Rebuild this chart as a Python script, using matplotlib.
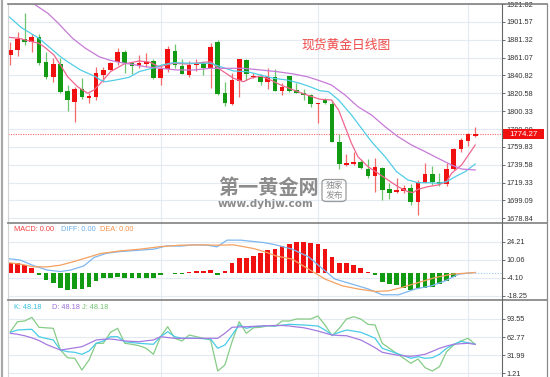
import matplotlib
matplotlib.use("Agg")
import matplotlib.pyplot as plt
from matplotlib.patches import Rectangle, FancyBboxPatch
from matplotlib.lines import Line2D
import numpy as np

# ---- candles (open, high, low, close) ----
opens = [1864.0, 1869.7, 1882.1, 1878.4, 1884.7, 1856.4, 1839.4, 1853.8, 1823.5, 1811.0,
         1825.1, 1815.2, 1816.7, 1841.3, 1847.0, 1855.7, 1867.1, 1854.6, 1851.5, 1853.8,
         1857.5, 1837.6, 1847.8, 1868.9, 1851.5, 1841.3, 1852.7, 1855.3, 1848.9, 1879.1,
         1821.2, 1808.4, 1834.5, 1858.3, 1838.7, 1838.7, 1833.7, 1839.4, 1823.5, 1840.2,
         1824.3, 1821.2, 1818.6, 1808.1, 1812.6, 1808.4, 1765.7, 1739.3, 1740.4, 1742.3,
         1734.7, 1726.8, 1736.2, 1711.7, 1708.3, 1709.8, 1712.9, 1697.7, 1719.2, 1729.1,
         1720.3, 1717.7, 1734.7, 1757.1, 1766.5, 1772.5]
highs = [1879.1, 1890.4, 1911.3, 1887.5, 1887.5, 1867.7, 1860.3, 1860.3, 1830.0, 1828.0,
         1837.6, 1820.6, 1850.7, 1850.7, 1856.4, 1871.6, 1869.7, 1856.4, 1864.0, 1865.9,
         1859.1, 1851.9, 1874.2, 1876.5, 1859.1, 1857.2, 1859.1, 1857.5, 1877.9, 1881.0,
         1833.7, 1843.2, 1859.6, 1859.1, 1843.9, 1842.5, 1848.9, 1847.8, 1831.9, 1840.7,
         1831.9, 1825.1, 1819.4, 1809.9, 1815.6, 1812.6, 1774.4, 1751.7, 1754.4, 1745.7,
         1745.7, 1746.9, 1736.5, 1719.2, 1724.9, 1716.6, 1717.4, 1722.3, 1741.2, 1738.5,
         1729.9, 1741.9, 1758.2, 1769.5, 1775.9, 1782.7]
lows = [1852.7, 1862.9, 1875.3, 1867.7, 1852.7, 1836.8, 1833.7, 1821.2, 1800.8, 1788.4,
        1813.8, 1809.2, 1813.0, 1833.7, 1846.5, 1852.7, 1843.9, 1842.5, 1848.9, 1850.7,
        1836.4, 1830.0, 1845.1, 1848.9, 1842.0, 1838.7, 1846.2, 1841.3, 1826.2, 1818.6,
        1806.2, 1807.5, 1816.7, 1835.6, 1837.6, 1830.0, 1825.1, 1823.0, 1818.6, 1822.4,
        1820.6, 1813.0, 1804.7, 1786.6, 1808.4, 1765.0, 1734.4, 1738.1, 1739.3, 1734.4,
        1724.2, 1709.0, 1699.6, 1700.4, 1707.2, 1707.9, 1693.9, 1682.6, 1718.5, 1716.6,
        1715.5, 1715.5, 1733.6, 1754.4, 1760.8, 1770.7]
closes = [1869.7, 1882.1, 1878.7, 1884.7, 1855.3, 1838.7, 1853.8, 1822.4, 1813.0, 1825.1,
          1816.0, 1817.8, 1843.2, 1847.0, 1855.3, 1867.7, 1854.6, 1851.9, 1855.3, 1856.1,
          1838.3, 1848.1, 1870.5, 1852.7, 1842.5, 1852.7, 1855.3, 1848.9, 1873.4, 1819.8,
          1809.2, 1835.6, 1859.1, 1842.5, 1840.2, 1833.7, 1839.4, 1823.5, 1828.0, 1823.5,
          1821.2, 1818.6, 1808.4, 1809.2, 1809.9, 1765.7, 1740.4, 1741.9, 1743.0, 1735.5,
          1726.8, 1736.7, 1710.9, 1707.2, 1710.9, 1712.9, 1697.7, 1720.3, 1728.7, 1720.3,
          1717.7, 1734.7, 1757.1, 1767.6, 1774.1, 1774.27]
last_price = 1774.27

# ---- moving averages (candle index, value) ----
ma5_x = [-0.3, 1.2, 4.0, 4.7, 6.1, 7.0, 8.0, 9.4, 10.8, 11.7, 12.6, 14.0, 15.9, 18.0, 19.4, 20.8,
         22.8, 24.7, 28.0, 29.1, 31.2, 32.6, 33.6, 35.0, 36.4, 37.8, 39.6, 41.5, 43.3, 44.9,
         45.9, 46.8, 47.7, 48.6, 50.0, 51.4, 52.8, 54.2, 55.6, 56.3, 57.0, 58.4, 59.8, 61.0,
         61.7, 63.1, 65.0]
ma5_y = [1884.1, 1882.9, 1877.2, 1873.4, 1864.0, 1852.7, 1839.4, 1828.0, 1820.6, 1824.3, 1831.9,
         1845.1, 1853.8, 1857.2, 1856.1, 1850.7, 1854.6, 1853.8, 1856.4, 1848.9, 1837.6, 1833.7,
         1837.6, 1840.2, 1835.6, 1830.0, 1824.3, 1818.6, 1813.8, 1813.0, 1801.6, 1782.7, 1763.9,
         1748.7, 1737.4, 1729.9, 1722.3, 1714.7, 1709.0, 1707.9, 1711.7, 1714.7, 1716.6, 1720.3,
         1729.9, 1739.3, 1761.9]
ma10_x = [-0.3, 1.5, 4.0, 5.5, 7.0, 8.0, 9.8, 11.9, 12.6, 13.3, 14.7, 16.6, 18.0, 19.8, 21.2, 22.8,
          25.6, 28.0, 29.4, 31.2, 33.1, 35.0, 36.8, 38.7, 40.5, 41.9, 43.3, 44.5, 45.9, 47.7,
          49.1, 50.5, 52.4, 54.0, 55.6, 57.0, 58.4, 59.8, 61.0, 62.2, 63.6, 65.0]
ma10_y = [1908.2, 1895.3, 1882.9, 1872.5, 1862.1, 1856.4, 1847.0, 1839.4, 1835.6, 1833.7, 1835.6,
          1838.7, 1845.1, 1848.9, 1852.7, 1855.3, 1854.6, 1854.6, 1850.7, 1845.9, 1845.1, 1841.3,
          1837.6, 1835.6, 1831.9, 1828.0, 1823.5, 1822.4, 1813.0, 1796.0, 1780.9, 1765.7, 1748.7,
          1731.7, 1722.3, 1719.2, 1719.2, 1718.5, 1720.3, 1726.0, 1731.7, 1740.4]
ma20_x = [-0.4, 2.6, 4.0, 5.3, 6.7, 8.7, 10.5, 12.4, 13.8, 15.2, 17.0, 18.9, 21.0, 23.3, 25.6,
          28.0, 30.3, 32.6, 35.0, 37.3, 39.6, 41.5, 43.2, 44.9, 46.8, 48.6, 50.5, 52.4, 54.2,
          56.1, 58.0, 59.8, 61.7, 63.1, 65.0]
ma20_y = [1943.0, 1926.0, 1918.0, 1911.0, 1900.0, 1882.9, 1871.6, 1862.1, 1858.3, 1855.7,
          1853.4, 1850.7, 1848.9, 1847.0, 1847.0, 1848.9, 1848.9, 1848.9, 1847.0, 1845.1, 1842.5,
          1839.4, 1835.0, 1830.0, 1818.6, 1805.4, 1796.0, 1782.7, 1771.4, 1761.9, 1754.4, 1746.9,
          1739.3, 1734.7, 1733.6]

# ---- MACD ----
macd_hist = [7.4, 7.9, 6.1, 3.2, -2.1, -6.1, -7.9, -12.6, -14.0, -13.2,
             -13.2, -11.1, -7.1, -4.7, -4.0, -3.2, -4.7, -4.7, -4.7, -4.7,
             -4.7, -2.1, -0.5, -1.3, -1.3, 0.5, 1.1, 1.3, 2.1, -2.1,
             1.3, 7.4, 11.3, 11.3, 13.2, 15.3, 17.7, 18.4, 21.1, 22.9,
             24.2, 24.5, 23.7, 22.4, 18.4, 12.4, 7.9, 7.4, 6.1, 3.2,
             0.2, -1.8, -7.4, -9.2, -10.0, -11.9, -13.7, -11.9, -11.9, -11.3,
             -9.2, -6.6, -3.2, -1.3, -0.6, -0.3]
diff_x = [-0.4, 1.4, 3.3, 5.2, 7.0, 8.4, 10.3, 11.7, 13.5, 15.4, 18.2, 20.1, 21.9, 23.8, 25.6,
          27.5, 28.9, 30.3, 32.2, 35.4, 37.1, 39.4, 41.7, 44.0, 45.4, 47.8, 50.1, 52.0, 54.3,
          56.6, 58.9, 60.8, 62.7, 65.0]
diff_y = [11.1, 9.8, 5.3, 1.9, 0.8, 1.9, 5.3, 11.9, 15.3, 16.6, 17.7, 18.5, 21.1, 20.9, 21.9,
          21.6, 20.3, 25.6, 25.6, 23.7, 21.9, 18.5, 12.4, 1.3, -5.2, -9.2, -13.1, -17.6, -17.6,
          -13.1, -10.5, -6.6, -1.3, 0.0]
dea_x = [-0.4, 1.4, 3.3, 5.2, 7.0, 8.9, 10.8, 12.6, 15.4, 18.2, 21.0, 23.8, 26.6, 28.9, 31.2,
         34.0, 35.9, 37.1, 39.4, 41.7, 44.0, 46.4, 48.7, 51.0, 52.9, 54.7, 57.1, 59.4, 61.7, 65.0]
dea_y = [7.9, 6.6, 4.5, 4.5, 5.8, 8.7, 11.9, 15.0, 17.1, 18.5, 20.5, 21.6, 21.9, 21.6, 21.9,
         19.0, 15.8, 13.2, 10.6, 2.7, -5.2, -10.5, -13.1, -15.0, -14.5, -11.9, -7.9, -4.0, -1.3, 0.0]

# ---- KDJ ----
k_vals = [70.9, 74.8, 75.5, 76.0, 63.4, 60.5, 57.8, 40.8, 37.9, 36.9,
          33.5, 39.1, 52.2, 56.1, 63.4, 63.4, 54.9, 53.5, 52.2, 51.3,
          50.5, 63.4, 71.9, 63.4, 60.7, 61.0, 60.7, 60.0, 59.5, 43.7,
          49.3, 66.3, 83.3, 77.7, 80.4, 81.2, 82.1, 81.6, 83.0, 84.5,
          83.9, 83.3, 82.5, 81.6, 74.8, 66.3, 70.9, 74.8, 73.0, 70.9,
          66.0, 60.7, 43.7, 39.5, 35.2, 31.1, 26.7, 29.4, 26.7, 27.7,
          33.5, 43.7, 50.5, 55.4, 53.2, 50.5]
d_vals = [69.2, 67.5, 65.0, 61.5, 57.0, 50.5, 45.5, 40.8, 42.5, 44.5,
          46.4, 52.0, 57.8, 59.0, 59.5, 58.0, 56.1, 55.5, 54.9, 56.5,
          57.8, 63.4, 62.0, 60.7, 60.7, 60.7, 60.7, 60.7, 60.7, 60.7,
          69.2, 79.4, 80.0, 80.4, 81.0, 81.6, 82.1, 82.5, 82.5, 81.6,
          80.0, 78.7, 76.0, 73.1, 69.5, 66.3, 65.5, 65.1, 61.5, 57.8,
          51.5, 44.7, 36.9, 34.5, 32.3, 31.0, 30.1, 31.5, 33.5, 38.5,
          43.7, 47.5, 50.5, 51.5, 52.2, 50.5]
j_vals = [71.9, 88.9, 90.1, 96.4, 79.4, 78.5, 77.7, 40.8, 27.7, 26.7,
          6.8, 23.8, 52.2, 52.2, 70.9, 77.7, 52.2, 50.5, 48.1, 43.7,
          33.5, 63.4, 80.4, 60.7, 56.1, 66.3, 63.4, 60.7, 57.8, 5.1,
          15.3, 54.9, 88.9, 69.2, 78.7, 79.4, 82.1, 81.0, 90.1, 90.1,
          93.5, 93.5, 93.5, 98.6, 83.3, 65.1, 77.7, 93.5, 97.4, 93.5,
          84.5, 83.3, 52.2, 43.7, 35.2, 26.7, 18.2, 25.5, 10.7, 5.1,
          12.4, 37.9, 49.3, 56.1, 60.7, 50.5]

# ---- axis ticks ----
price_ticks = [1921.82, 1901.57, 1881.32, 1861.07, 1840.82, 1820.58, 1800.33, 1780.08,
               1759.83, 1739.58, 1719.33, 1699.09, 1678.84]
macd_ticks = [24.21, 10.06, -4.10, -18.25]
kdj_ticks = [93.55, 62.77, 31.99, 1.21]
month_lines = [21, 43, 64]

RED = "#f01010"
GREEN = "#129a12"
GRID = "#e3eaf2"
CJK_FONT = ["Noto Sans CJK SC", "DejaVu Sans"]
FS = 5.3

plt.rcParams["font.family"] = ["Liberation Sans", "DejaVu Sans"]

W, H = 550, 377
fig = plt.figure(figsize=(5.5, 3.77), dpi=100)
fig.patch.set_facecolor("white")

left_px, right_px = 7.5, 502


def make_ax(top, bottom):
    ax = fig.add_axes([left_px / W, 1 - bottom / H, (right_px - left_px) / W, (bottom - top) / H])
    for s in ax.spines.values():
        s.set_visible(False)
    ax.set_xlim(-0.4, 68.75)
    ax.set_xticks(month_lines)
    ax.tick_params(axis="x", length=0, labelbottom=False)
    ax.yaxis.tick_right()
    ax.tick_params(axis="y", direction="out", length=2, width=0.6, pad=1.5,
                   labelsize=FS, colors="#555555", labelcolor="#333333")
    ax.grid(True, color=GRID, lw=0.8)
    ax.set_axisbelow(True)
    return ax


ax = make_ax(4, 223)
ax2 = make_ax(223, 300)
ax3 = make_ax(300, 377)

# main panel
idx = np.arange(len(closes))
o = np.array(opens); c = np.array(closes); h = np.array(highs); l = np.array(lows)
up = c >= o
ax.vlines(idx, l, h, colors=np.where(up, "#f26a6a", "#6cc46c"), lw=0.9, zorder=3)
ax.bar(idx, np.maximum(np.abs(c - o), 0.9), bottom=np.minimum(o, c), width=0.65,
       color=np.where(up, RED, GREEN), lw=0, zorder=4)
ax.plot(ma5_x, ma5_y, color="#f0668e", lw=0.9, zorder=5)
ax.plot(ma10_x, ma10_y, color="#52cde6", lw=0.9, zorder=5)
ax.plot(ma20_x, ma20_y, color="#c77ad8", lw=0.9, zorder=5)
ax.axhline(last_price, color="#f06a6a", lw=0.8, ls=(0, (1, 1.2)), zorder=2)
ax.set_ylim(1673.5, 1921.8)
ax.set_yticks(price_ticks)
ax.set_yticklabels([f"{v:.2f}" for v in price_ticks])
ytr = ax.get_yaxis_transform()
ax.add_patch(Rectangle((1.002, last_price - 5.4), 41 / (right_px - left_px), 10.8,
                       transform=ytr, facecolor="#f01010", edgecolor="none",
                       clip_on=False, zorder=10))
ax.text(1.043, last_price, f"{last_price:.2f}", transform=ytr, color="white",
        fontsize=FS + 0.3, ha="center", va="center", zorder=11)
ax.text(0.6845, 0.81, "现货黄金日线图", transform=ax.transAxes, family=CJK_FONT,
        color="#f04848", fontsize=9.2, ha="center", va="center", zorder=6)

# watermark
fig.text(218 / W, 1 - 187 / H, "第一黄金网", family=CJK_FONT, fontsize=14.5,
         fontweight="bold", color="#8c8c8c", ha="left", va="center", zorder=20)
fig.text(218 / W, 1 - 203.5 / H, "www.dyhjw.com", family=["DejaVu Sans"],
         fontsize=7.6, fontweight="bold", color="#8c8c8c", ha="left", va="center", zorder=20)
fig.patches.append(FancyBboxPatch((322 / W, 1 - 201.5 / H), 24 / W, 22 / H,
                                  boxstyle="round,pad=0,rounding_size=0.008",
                                  transform=fig.transFigure, facecolor="none",
                                  edgecolor="#9a9a9a", lw=0.9, zorder=20))
fig.text(334 / W, 1 - 190.5 / H, "独家\n发布", family=CJK_FONT, fontsize=6.3,
         color="#8c8c8c", ha="center", va="center", linespacing=1.05, zorder=21)

# MACD panel
ax2.bar(idx, macd_hist, width=0.65, color=np.where(np.array(macd_hist) >= 0, RED, GREEN),
        lw=0, zorder=3)
ax2.plot(diff_x, diff_y, color="#7db7ef", lw=0.9, zorder=4)
ax2.plot(dea_x, dea_y, color="#f5a160", lw=0.9, zorder=4)
ax2.plot([65, 68.75], [0, 0], color="#9cc8ef", lw=0.8, ls=(0, (1, 1.5)), zorder=4)
ax2.set_ylim(-21.74, 39.16)
ax2.set_yticks(macd_ticks)
ax2.set_yticklabels([f"{v:.2f}" for v in macd_ticks])
ax2.text(0.013, 0.915, "MACD: 0.00", transform=ax2.transAxes, color="#f04040",
         fontsize=FS, va="center")
ax2.text(0.109, 0.915, "DIFF: 0.00", transform=ax2.transAxes, color="#6aaee8",
         fontsize=FS, va="center")
ax2.text(0.187, 0.915, "DEA: 0.00", transform=ax2.transAxes, color="#f5904a",
         fontsize=FS, va="center")

# KDJ panel
ax3.plot(idx, j_vals, color="#86cc86", lw=0.9, zorder=3)
ax3.plot(idx, k_vals, color="#48cbe6", lw=0.9, zorder=4)
ax3.plot(idx, d_vals, color="#a57ae0", lw=0.9, zorder=5)
ax3.set_ylim(-5.1, 125.8)
ax3.set_yticks(kdj_ticks)
ax3.set_yticklabels([f"{v:.2f}" for v in kdj_ticks])
ax3.text(0.013, 0.9, "K: 48.18", transform=ax3.transAxes, color="#38c0e0",
         fontsize=FS, va="center")
ax3.text(0.09, 0.9, "D: 48.18", transform=ax3.transAxes, color="#9a70d8",
         fontsize=FS, va="center")
ax3.text(0.15, 0.9, "J: 48.18", transform=ax3.transAxes, color="#74c474",
         fontsize=FS, va="center")

# frame lines (pixel coordinates)
def fig_line(x0, y0, x1, y1, color, lw):
    fig.add_artist(Line2D([x0 / W, x1 / W], [1 - y0 / H, 1 - y1 / H], color=color, lw=lw,
                          transform=fig.transFigure, zorder=30))


fig_line(1.5, 0, 1.5, H, "#a8a8a8", 1.6)
fig_line(left_px, 4, left_px, H, "#d4d4d4", 0.8)
fig_line(left_px, 4, 547, 4, "#808080", 1.2)
fig_line(left_px, 222.5, 547, 222.5, "#8a8a8a", 1.3)
fig_line(left_px, 300, 547, 300, "#8a8a8a", 1.3)
fig_line(right_px, 4, right_px, H, "#666666", 0.8)
fig_line(546.5, 4, 546.5, H, "#8a8a8a", 0.9)

fig.savefig("out.png", dpi=100)
